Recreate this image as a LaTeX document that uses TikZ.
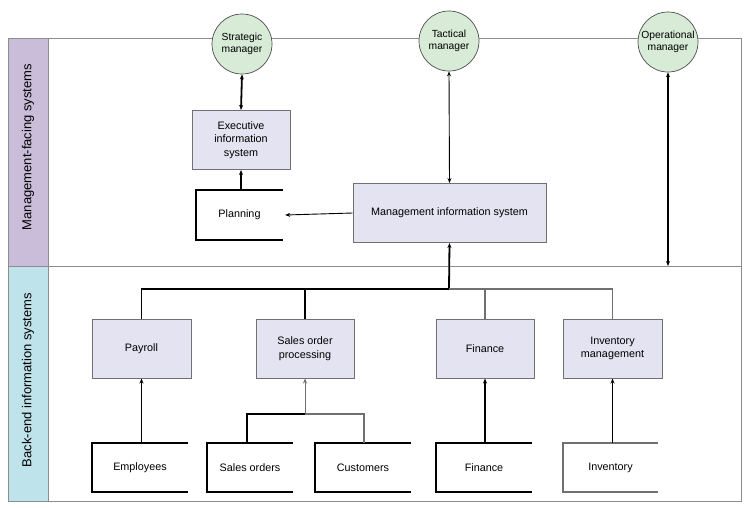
\documentclass[tikz,border=0pt]{standalone}
\usepackage{fontspec}
\setmainfont{Liberation Sans}
\usetikzlibrary{arrows.meta}
\definecolor{bandP}{HTML}{C9BDD9}
\definecolor{bandB}{HTML}{BFE3EA}
\definecolor{boxF}{HTML}{E3E3F1}
\definecolor{circF}{HTML}{D7EBD7}
\definecolor{frameG}{HTML}{8C8C8C}
\definecolor{lineG}{HTML}{707070}
\begin{document}
\begin{tikzpicture}[x=1pt,y=-1pt,
  sysbox/.style={draw=lineG, line width=1pt, fill=boxF, minimum width=98pt, minimum height=59pt, align=center, inner sep=0pt, font=\fontsize{10.8}{13.5}\selectfont},
  mgr/.style={circle, draw=black!70, line width=0.7pt, fill=circF, minimum size=60pt, inner sep=0pt, align=center, font=\fontsize{10.3}{12.5}\selectfont},
  store/.style={minimum height=49pt, inner sep=0pt, align=center, font=\fontsize{10.8}{13.5}\selectfont},
  bandlbl/.style={rotate=90, font=\fontsize{13}{15}\selectfont},
  thick line/.style={line width=1.8pt, black},
  thin line/.style={line width=0.9pt, black},
  gray line/.style={line width=1.3pt, lineG},
  tip/.style={-{Stealth[length=5pt,width=4pt]}},
  tips/.style={{Stealth[length=5pt,width=4pt]}-{Stealth[length=5pt,width=4pt]}}
]
\useasboundingbox (0,0) rectangle (754,507);
% frame and bands
\draw[frameG, line width=0.9pt, fill=bandP] (8,38) rectangle (48,266);
\draw[frameG, line width=0.9pt, fill=bandB] (8,266) rectangle (48,501);
\draw[frameG, line width=0.9pt] (48,38) -- (741,38) -- (741,501) -- (48,501);
\draw[frameG, line width=0.9pt] (48,266) -- (741,266);
\node[bandlbl] (lblM) at (28,147) {Management-facing systems};
\node[bandlbl] (lblB) at (28,380) {Back-end information systems};

% managers
\node[mgr] (sm) at (242,44) {Strategic\\manager};
\node[mgr] (tm) at (449,41) {Tactical\\manager};
\node[mgr] (om) at (668,42) {Operational\\manager};

% systems
\node[sysbox] (eis) at (241,140) {Executive\\information\\system};
\node[sysbox, minimum width=193pt] (mis) at (449.5,213) {Management information system};
\node[sysbox, minimum width=99pt] (pay) at (141.5,348.5) {Payroll};
\node[sysbox] (sop) at (305,348.5) {Sales order\\processing};
\node[sysbox] (fin) at (485,348.5) {Finance};
\node[sysbox, minimum width=99pt] (inv) at (612.5,348.5) {Inventory\\management};

% data stores
\node[store, minimum width=87pt] (plan) at (239.5,215) {Planning};
\node[store, minimum width=96pt] (emp) at (140,467.5) {Employees};
\node[store, minimum width=86pt] (so) at (250,467.5) {Sales orders};
\node[store, minimum width=96pt] (cus) at (363,467.5) {Customers};
\node[store, minimum width=96pt] (fins) at (484,467.5) {Finance};
\node[store, minimum width=95pt] (invs) at (610.5,467.5) {Inventory};
\foreach \s in {plan,emp,so,cus,fins}{
  \draw[thick line] (\s.north east) -- (\s.north west) -- (\s.south west) -- (\s.south east);
}
\draw[gray line, line width=1.6pt] (invs.north east) -- (invs.north west) -- (invs.south west) -- (invs.south east);

% management connectors
\draw[thick line, tips] (sm.south) -- (eis.north);
\draw[thick line, tip] (plan.north -| eis.south) -- (eis.south);
\draw[thin line, tip] (mis.west) -- ([xshift=2pt]plan.east);
\draw[thin line, tips] (tm.south) -- (mis.north);
\coordinate (omEnd) at (668,266);
\draw[thick line, tips] (om.south) -- (omEnd);

% back-end tree
\coordinate (bus) at (449,289);
\draw[thick line, tip] (bus) -- (mis.south);
\draw[thick line] (pay.north) |- (bus);
\draw[thick line] (sop.north) -- (sop.north |- bus);
\draw[gray line] (bus) -| (inv.north);
\draw[gray line] (fin.north) -- (fin.north |- bus);

% stores to systems
\draw[thick line, tip] (emp.north -| pay.south) -- (pay.south);
\draw[thick line, tip] (fins.north -| fin.south) -- (fin.south);
\draw[thick line, tip] (invs.north -| inv.south) -- (inv.south);
\coordinate (sj) at (305,414);
\draw[thick line] (247,443) |- (sj);
\draw[gray line] (sj) -| (364,443);
\draw[gray line, line width=0.9pt, tip] (sj) -- (sop.south);
\end{tikzpicture}
\end{document}
